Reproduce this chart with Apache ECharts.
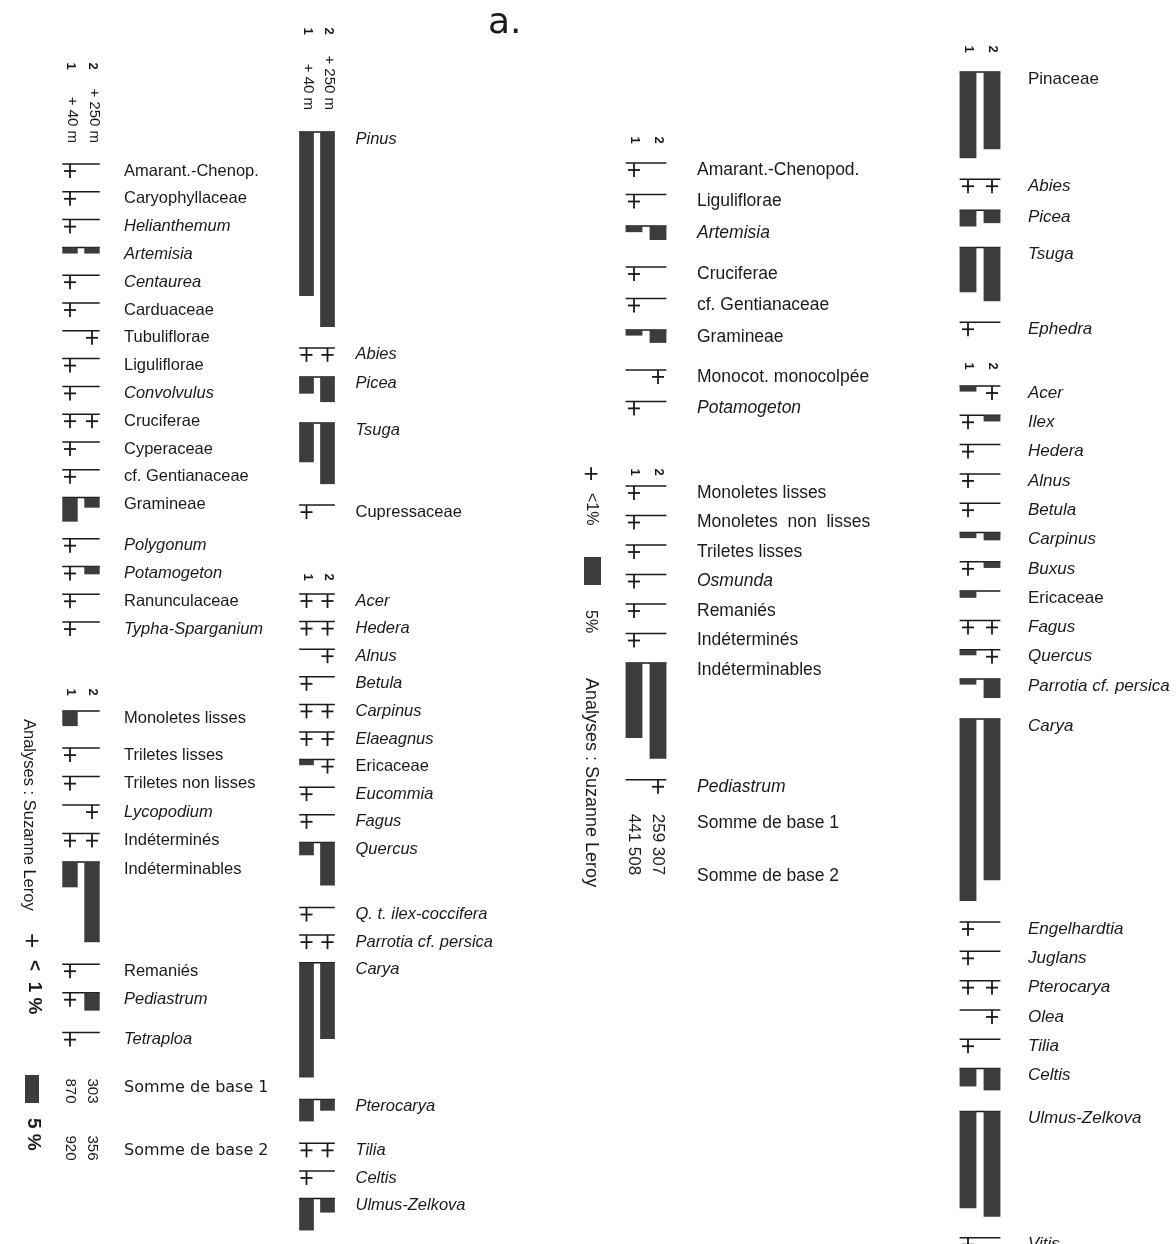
<!DOCTYPE html>
<html>
<head>
<meta charset="utf-8">
<title>Diagramme pollinique a.</title>
<script src="https://cdn.jsdelivr.net/npm/echarts@6/dist/echarts.min.js"></script>
<style>
    html, body { margin: 0; padding: 0; background: #fff; }
    #main { width: 1176px; height: 1244px; }
</style>
</head>
<body>
<div id="main"></div>
<script>
// "+" : présent, < 1 %
var P = 0.5;

var sampleIds = ['1', '2'];
var sampleDepths = ['+ 40 m', '+ 250 m'];

// colonne 1 : herbacées
var herbTaxa = ['Amarant.-Chenop.', 'Caryophyllaceae', 'Helianthemum', 'Artemisia', 'Centaurea', 'Carduaceae',
    'Tubuliflorae', 'Liguliflorae', 'Convolvulus', 'Cruciferae', 'Cyperaceae', 'cf. Gentianaceae', 'Gramineae',
    'Polygonum', 'Potamogeton', 'Ranunculaceae', 'Typha-Sparganium'];
var herbS1 = [P, P, P, 1.1, P, P, 0, P, P, P, P, P, 4.3, P, P, P, P];
var herbS2 = [0, 0, 0, 1.1, 0, 0, P, 0, 0, P, 0, 0, 1.8, 0, 1.4, 0, 0];

var sporeTaxa = ['Monoletes lisses', 'Triletes lisses', 'Triletes non lisses', 'Lycopodium', 'Indéterminés',
    'Indéterminables', 'Remaniés', 'Pediastrum', 'Tetraploa'];
var sporeS1 = [2.7, P, P, 0, P, 4.5, P, P, P];
var sporeS2 = [0, 0, 0, P, P, 14.3, 0, 3.2, 0];
var sommeBase1 = [870, 303];
var sommeBase2 = [920, 356];

// colonne 2 : arbres
var conifTaxa = ['Pinus', 'Abies', 'Picea', 'Tsuga', 'Cupressaceae'];
var conifS1 = [29.3, P, 3.0, 7.0, P];
var conifS2 = [34.8, P, 4.5, 10.9, 0];

var treeTaxa = ['Acer', 'Hedera', 'Alnus', 'Betula', 'Carpinus', 'Elaeagnus', 'Ericaceae', 'Eucommia', 'Fagus',
    'Quercus', 'Q. t. ilex-coccifera', 'Parrotia cf. persica', 'Carya', 'Pterocarya', 'Tilia', 'Celtis', 'Ulmus-Zelkova'];
var treeS1 = [P, P, 0, P, P, P, 1.0, P, P, 2.3, P, P, 20.5, 3.9, P, P, 5.7];
var treeS2 = [P, P, P, 0, P, P, P, 0, 0, 7.7, 0, P, 13.6, 2.0, P, 0, 2.5];

// colonne 3 : herbacées, spores
var herb2Taxa = ['Amarant.-Chenopod.', 'Liguliflorae', 'Artemisia', 'Cruciferae', 'cf. Gentianaceae', 'Gramineae',
    'Monocot. monocolpée', 'Potamogeton'];
var herb2S1 = [P, P, 1.1, P, P, 1.0, 0, P];
var herb2S2 = [0, 0, 2.5, 0, 0, 2.3, P, 0];

var spore2Taxa = ['Monoletes lisses', 'Monoletes  non  lisses', 'Triletes lisses', 'Osmunda', 'Remaniés',
    'Indéterminés', 'Indéterminables', 'Pediastrum'];
var spore2S1 = [P, P, P, P, P, P, 13.4, 0];
var spore2S2 = [0, 0, 0, 0, 0, 0, 17.1, P];
var somme2Base1 = [441, 259];
var somme2Base2 = [508, 307];

// colonne 4 : arbres
var conif3Taxa = ['Pinaceae', 'Abies', 'Picea', 'Tsuga', 'Ephedra'];
var conif3S1 = [15.4, P, 2.9, 8.0, P];
var conif3S2 = [13.8, P, 2.3, 9.6, 0];

var tree3Taxa = ['Acer', 'Ilex', 'Hedera', 'Alnus', 'Betula', 'Carpinus', 'Buxus', 'Ericaceae', 'Fagus', 'Quercus',
    'Parrotia cf. persica', 'Carya', 'Engelhardtia', 'Juglans', 'Pterocarya', 'Olea', 'Tilia', 'Celtis',
    'Ulmus-Zelkova', 'Vitis'];
var tree3S1 = [1.0, P, P, P, P, 1.0, P, 1.2, P, 1.0, 1.0, 32.5, P, P, P, 0, P, 3.2, 17.3, P];
var tree3S2 = [P, 1.1, 0, 0, 0, 1.4, 1.1, 0, P, P, 3.4, 28.8, 0, 0, P, P, 0, 3.9, 18.8, 0];

var sommeLabels = ['Somme de base 1', 'Somme de base 2'];

// noms non italiques (familles, catégories)
var romanTaxa = ['Amarant.-Chenop.', 'Caryophyllaceae', 'Carduaceae', 'Tubuliflorae', 'Liguliflorae', 'Cruciferae',
    'Cyperaceae', 'cf. Gentianaceae', 'Gramineae', 'Ranunculaceae', 'Monoletes lisses', 'Triletes lisses',
    'Triletes non lisses', 'Indéterminés', 'Indéterminables', 'Remaniés', 'Cupressaceae', 'Ericaceae',
    'Amarant.-Chenopod.', 'Monocot. monocolpée', 'Monoletes  non  lisses', 'Pinaceae'];

var PX = 5.6;       // pixels pour 1 %
var H = 1244;
var INK = '#1a1a1a';
var BAR = '#3c3c3c';
var FONT = '"Liberation Sans", Arial, Helvetica, sans-serif';

var panels = [
    {left: 59, width: 44, labelDx: 32, fontSize: 16.5},
    {left: 296, width: 42, labelDx: 28, fontSize: 16.5},
    {left: 622, width: 48, labelDx: 39, fontSize: 17.5},
    {left: 956, width: 48, labelDx: 36, fontSize: 17}
];

var sections = [
    {panel: 0, taxa: herbTaxa, s1: herbS1, s2: herbS2, start: 164, step: 27.8, gap: 17, digitsY: 66, depthY: 143},
    {panel: 0, taxa: sporeTaxa, s1: sporeS1, s2: sporeS2, start: 711, step: 28.5, gap: 22, digitsY: 692},
    {panel: 1, taxa: conifTaxa, s1: conifS1, s2: conifS2, start: 132, step: 29, gap: 21, digitsY: 31, depthY: 110},
    {panel: 1, taxa: treeTaxa, s1: treeS1, s2: treeS2, start: 594, step: 27.6, gap: 22, digitsY: 577},
    {panel: 2, taxa: herb2Taxa, s1: herb2S1, s2: herb2S2, start: 163, step: 31.5, gap: 27, digitsY: 140},
    {panel: 2, taxa: spore2Taxa, s1: spore2S1, s2: spore2S2, start: 486, step: 29.5, gap: 21, digitsY: 472},
    {panel: 3, taxa: conif3Taxa, s1: conif3S1, s2: conif3S2, start: 72, step: 31, gap: 21, digitsY: 49},
    {panel: 3, taxa: tree3Taxa, s1: tree3S1, s2: tree3S2, start: 386, step: 29.3, gap: 21, digitsY: 366}
];

var sums = [
    {panel: 0, values: [sommeBase1, sommeBase2], labelY: [1088, 1151], numY: [1091, 1148],
        labelFont: '16px "DejaVu Sans", sans-serif', numSize: 15},
    {panel: 2, values: [somme2Base1, somme2Base2], labelY: [823, 876], numY: [828, 861],
        labelFont: '17.5px ' + FONT, numSize: 17}
];

function textEl(x, y, text, font, align, rotated) {
    return {
        type: 'text', x: x, y: y, rotation: rotated ? -Math.PI / 2 : 0,
        style: {
            text: text, font: font, fill: INK,
            textAlign: align || 'left', textVerticalAlign: 'middle',
            align: align || 'left', verticalAlign: 'middle'
        }
    };
}

// position des lignes : espacement mini ou longueur de barre + marge
function rowData(sec) {
    var rows = [];
    var y = sec.start;
    for (var i = 0; i < sec.taxa.length; i++) {
        rows.push([0, y / PX, sec.s1[i], sec.s2[i]]);
        var bar = Math.max(sec.s1[i] >= 1 ? sec.s1[i] : 0, sec.s2[i] >= 1 ? sec.s2[i] : 0);
        y += Math.max(sec.step, bar * PX + sec.gap);
    }
    return rows;
}

function sectionRender(sec) {
    var pan = panels[sec.panel];
    return function (params, api) {
        var i = params.dataIndex;
        var top = api.value(1);
        var vals = [api.value(2), api.value(3)];
        var pts = [api.coord([0, top]), api.coord([1, top])];
        var y0 = pts[0][1];
        var bw = api.size([1, 0])[0] * 0.7;
        var kids = [];
        kids.push({
            type: 'line',
            shape: {x1: pts[0][0] - bw / 2, y1: y0, x2: pts[1][0] + bw / 2, y2: y0},
            style: {stroke: INK, lineWidth: 1.5}
        });
        pts.forEach(function (p, k) {
            var v = vals[k];
            if (v >= 1) {
                var yb = api.coord([k, top + v])[1];
                kids.push({
                    type: 'rect',
                    shape: {x: p[0] - bw / 2, y: y0, width: bw, height: yb - y0},
                    style: {fill: BAR}
                });
            } else if (v > 0) {
                kids.push({type: 'line', shape: {x1: p[0], y1: y0, x2: p[0], y2: y0 + 14},
                    style: {stroke: INK, lineWidth: 1.8}});
                kids.push({type: 'line', shape: {x1: p[0] - 6, y1: y0 + 7, x2: p[0] + 6, y2: y0 + 7},
                    style: {stroke: INK, lineWidth: 1.8}});
            }
        });
        var name = sec.taxa[i];
        var style = romanTaxa.indexOf(name) >= 0 ? '' : 'italic ';
        kids.push(textEl(pts[1][0] + pan.labelDx, y0 + 7, name, style + pan.fontSize + 'px ' + FONT));
        if (i === 0) {
            pts.forEach(function (p, k) {
                kids.push(textEl(p[0] + 1, sec.digitsY, sampleIds[k], 'bold 13px ' + FONT, 'center', true));
                if (sec.depthY) {
                    kids.push(textEl(p[0] + 2, sec.depthY, sampleDepths[k], '15px ' + FONT, 'right', true));
                }
            });
        }
        return {type: 'group', children: kids};
    };
}

function sumRender(sm) {
    var pan = panels[sm.panel];
    return function (params, api) {
        var kids = [];
        var p1 = api.coord([0, 0]);
        var p2 = api.coord([1, 0]);
        sm.values.forEach(function (pair, r) {
            kids.push(textEl(p2[0] + pan.labelDx, sm.labelY[r], sommeLabels[r], sm.labelFont));
            kids.push(textEl(p1[0], sm.numY[r], String(pair[0]), sm.numSize + 'px ' + FONT, 'center', true));
            kids.push(textEl(p2[0], sm.numY[r], String(pair[1]), sm.numSize + 'px ' + FONT, 'center', true));
        });
        return {type: 'group', children: kids};
    };
}

var grids = [], xAxes = [], yAxes = [], series = [];
panels.forEach(function (pan, g) {
    grids.push({left: pan.left, width: pan.width, top: 0, height: H});
    xAxes.push({type: 'category', gridIndex: g, data: sampleIds, show: false});
    yAxes.push({type: 'value', gridIndex: g, inverse: true, min: 0, max: H / PX, show: false});
});
sections.forEach(function (sec) {
    series.push({
        type: 'custom', xAxisIndex: sec.panel, yAxisIndex: sec.panel, clip: false, silent: true,
        renderItem: sectionRender(sec), data: rowData(sec)
    });
});
sums.forEach(function (sm) {
    series.push({
        type: 'custom', xAxisIndex: sm.panel, yAxisIndex: sm.panel, clip: false, silent: true,
        renderItem: sumRender(sm), data: [[0, 0]]
    });
});

var legendGraphics = [
    textEl(488, 24, 'a.', '36px "DejaVu Sans", sans-serif'),
    // légende gauche
    textEl(29, 719, 'Analyses : Suzanne Leroy', '16.5px ' + FONT, 'left', true),
    textEl(32, 942, '+', '26px ' + FONT, 'center'),
    textEl(34, 960, '<  1 %', 'bold 19px ' + FONT, 'left', true),
    {type: 'rect', shape: {x: 25, y: 1075, width: 14, height: 5 * PX}, style: {fill: BAR}},
    textEl(33, 1118, '5 %', 'bold 19px ' + FONT, 'left', true),
    // légende colonne 3
    textEl(591, 475, '+', '26px ' + FONT, 'center'),
    textEl(591, 493, '<1%', '16px ' + FONT, 'left', true),
    {type: 'rect', shape: {x: 584, y: 557, width: 17, height: 5 * PX}, style: {fill: BAR}},
    textEl(590, 610, '5%', '16px ' + FONT, 'left', true),
    textEl(591, 678, 'Analyses : Suzanne Leroy', '18px ' + FONT, 'left', true)
];

var chart = echarts.init(document.getElementById('main'), null, {renderer: 'canvas'});
chart.setOption({
    backgroundColor: '#fff',
    animation: false,
    grid: grids,
    xAxis: xAxes,
    yAxis: yAxes,
    graphic: {elements: legendGraphics},
    series: series
});
</script>
</body>
</html>
